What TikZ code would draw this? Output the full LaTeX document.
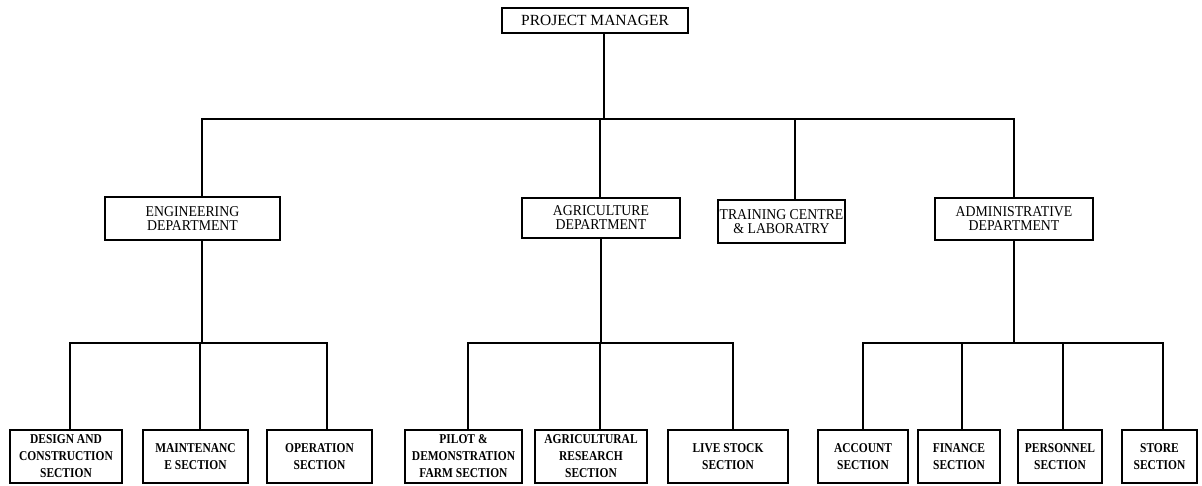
\documentclass[tikz,border=0pt]{standalone}
\usepackage{fontspec}
\setmainfont{Liberation Serif}
\newfontfamily\deptfont[FakeStretch=0.92]{Liberation Serif}
\newfontfamily\sectfont[FakeStretch=0.85]{Liberation Serif}
\begin{document}
\begin{tikzpicture}[x=1pt,y=-1pt,
  box/.style={draw, line width=2.4pt, inner sep=0pt, align=center},
  topbox/.style={box, font=\fontsize{15.5}{17}\selectfont},
  dept/.style={box, font=\deptfont\fontsize{15}{14}\selectfont},
  sect/.style={box, minimum height=53pt, font=\sectfont\bfseries\fontsize{13.5}{17}\selectfont},
  conn/.style={draw, line width=2pt}]
\useasboundingbox (0,0) rectangle (1202,485);
% top
\node[topbox, minimum width=186pt, minimum height=25pt] (pm) at (595,20.5) {PROJECT MANAGER};
% departments
\node[dept, minimum width=175pt, minimum height=43pt] (eng) at (192.5,218.5) {ENGINEERING\\DEPARTMENT};
\node[dept, minimum width=158pt, minimum height=40pt] (agri) at (601,218) {AGRICULTURE\\DEPARTMENT};
\node[dept, minimum width=127pt, minimum height=43pt] (train) at (781.5,221.5) {TRAINING CENTRE\\\& LABORATRY};
\node[dept, minimum width=158pt, minimum height=42pt] (admin) at (1014,219) {ADMINISTRATIVE\\DEPARTMENT};
% sections
\node[sect, minimum width=112pt] (design) at (66,456.5) {DESIGN AND\\CONSTRUCTION\\SECTION};
\node[sect, minimum width=105pt] (maint) at (195.5,456.5) {MAINTENANC\\E SECTION};
\node[sect, minimum width=105pt] (oper) at (319.5,456.5) {OPERATION\\SECTION};
\node[sect, minimum width=117pt] (pilot) at (463.5,456.5) {PILOT \&\\DEMONSTRATION\\FARM SECTION};
\node[sect, minimum width=112pt] (research) at (591,456.5) {AGRICULTURAL\\RESEARCH\\SECTION};
\node[sect, minimum width=120pt] (live) at (728,456.5) {LIVE STOCK\\SECTION};
\node[sect, minimum width=90pt] (account) at (863,456.5) {ACCOUNT\\SECTION};
\node[sect, minimum width=82pt] (finance) at (959,456.5) {FINANCE\\SECTION};
\node[sect, minimum width=84pt] (personnel) at (1060,456.5) {PERSONNEL\\SECTION};
\node[sect, minimum width=75pt] (store) at (1159.5,456.5) {STORE\\SECTION};
% main connectors
\draw[conn] ([xshift=9pt]pm.south) -- ++(0,85) coordinate (hub);
\draw[conn] (hub) -| ([xshift=9.5pt]eng.north);
\draw[conn] (hub) -| ([xshift=-1pt]agri.north);
\draw[conn] (hub) -| ([xshift=13.5pt]train.north);
\draw[conn] (hub) -| (admin.north);
% engineering
\draw[conn] ([xshift=9.5pt]eng.south) -- ++(0,102) coordinate (ehub);
\draw[conn] (ehub) -| ([xshift=4pt]design.north);
\draw[conn] (ehub) -| ([xshift=4.5pt]maint.north);
\draw[conn] (ehub) -| ([xshift=7.5pt]oper.north);
% agriculture
\draw[conn] (agri.south) -- ++(0,104) coordinate (ahub);
\draw[conn] (ahub) -| ([xshift=4.5pt]pilot.north);
\draw[conn] (ahub) -| ([xshift=9pt]research.north);
\draw[conn] (ahub) -| ([xshift=5pt]live.north);
% administrative
\draw[conn] (admin.south) -- ++(0,102) coordinate (dhub);
\draw[conn] (dhub) -| (account.north);
\draw[conn] (dhub) -| ([xshift=3pt]finance.north);
\draw[conn] (dhub) -| ([xshift=3pt]personnel.north);
\draw[conn] (dhub) -| ([xshift=3.5pt]store.north);
\end{tikzpicture}
\end{document}
